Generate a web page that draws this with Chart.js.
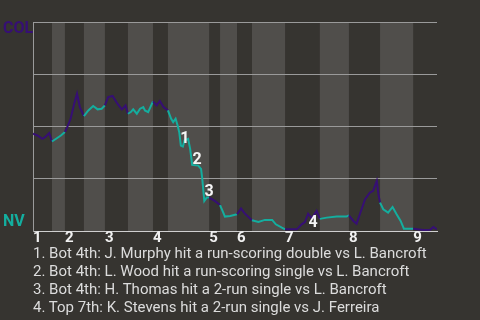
<!DOCTYPE html>
<html>
<head>
<meta charset="utf-8">
<script src="https://cdn.jsdelivr.net/npm/chart.js@4.4.1/dist/chart.umd.min.js"></script>
<style>
  body { margin: 0; background: #363430; font-family: Roboto, sans-serif; }
  #wrap { position: absolute; left: 0; top: 0; width: 480px; height: 320px; }
  #notes { position: absolute; left: 33px; top: 244px; margin: 0; padding: 0; list-style: none; color: #dcdcdc; font-size: 15px; line-height: 18px; white-space: nowrap; }
</style>
</head>
<body>
<div id="wrap"><canvas id="wpChart"></canvas></div>
<ul id="notes"></ul>
<script>
// game progress (0-100) and Colorado win probability (%)
const progress = [0, 1.1, 2.3, 3.0, 4.0, 4.7, 5.9, 6.9, 7.9, 8.3, 9.3, 10.2, 10.9, 11.6, 12.6, 13.7, 14.9, 16.0, 17.0, 17.8,
  18.6, 19.7, 20.9, 22.0, 22.9, 23.5, 24.2, 24.8, 25.7, 26.5, 27.3, 27.7, 28.5, 29.7, 30.6, 31.4, 32.3, 33.4, 34.2, 34.7,
  35.3, 35.8, 36.2, 36.6, 37.1, 37.5, 38.4, 38.9, 39.4, 40.9, 41.6, 41.9, 42.4, 43.0, 43.6, 45.0, 46.3, 47.1, 47.5, 48.8,
  50.5, 51.5, 52.4, 54.2, 55.8, 57.4, 59.2, 60.1, 61.6, 62.4, 65.3, 66.5, 67.3, 68.1, 69.0, 70.2, 71.0, 72.7, 75.2, 77.6,
  78.2, 79.3, 80.1, 80.9, 82.2, 83.4, 84.2, 85.1, 85.5, 85.9, 86.7, 87.9, 89.0, 90.0, 91.0, 91.8, 94.1, 96.6, 98.3, 99.1, 100];
const winProb = [46.6, 45.7, 44.1, 44.9, 46.8, 42.8, 44.4, 45.7, 47.4, 48.9, 53.7, 60.9, 65.7, 59.3, 55.0, 57.7, 59.8, 58.2, 58.5, 60.1,
  64.1, 64.6, 60.9, 58.2, 60.1, 56.1, 56.9, 58.2, 56.1, 58.5, 59.3, 57.7, 56.9, 62.0, 60.1, 62.2, 59.3, 57.7, 53.7, 52.1,
  53.7, 50.5, 47.3, 40.9, 40.4, 43.3, 44.1, 39.3, 31.6, 31.3, 29.7, 24.9, 14.4, 16.0, 16.0, 14.4, 12.4, 8.8, 6.9, 7.2,
  8.0, 10.8, 8.4, 5.1, 4.3, 5.3, 5.3, 3.2, 1.6, 0.8, 0.8, 3.2, 4.3, 8.3, 6.1, 9.6, 5.8, 6.4, 6.9, 6.9,
  7.5, 4.8, 3.5, 8.0, 15.2, 18.4, 19.2, 24.0, 17.6, 13.6, 10.4, 8.8, 11.5, 8.0, 4.8, 1.1, 1.1, 0.5, 0.6, 1.9, 0.8];

// start of each half inning (top, bottom, top, ...) and end of game
const halfStarts = [0, 4.7, 7.9, 12.6, 17.8, 23.5, 29.7, 33.4, 43.6, 46.3, 50.5, 54.2, 62.4, 71.0, 78.2, 85.9, 94.1, 100];
const innings = ['1', '2', '3', '4', '5', '6', '7', '8', '9'];

// key plays
const noteX = [37.6, 40.6, 43.6, 69.3];
const noteY = [44.2, 34.1, 18.8, 3.8];
const noteText = [
  'Bot 4th: J. Murphy hit a run-scoring double vs L. Bancroft',
  'Bot 4th: L. Wood hit a run-scoring single vs L. Bancroft',
  'Bot 4th: H. Thomas hit a 2-run single vs L. Bancroft',
  'Top 7th: K. Stevens hit a 2-run single vs J. Ferreira'
];

const awayColor = '#360f74';
const homeColor = '#14ae9f';

function halfIndex(x) {
  for (let i = halfStarts.length - 2; i >= 0; i--) {
    if (x >= halfStarts[i]) return i;
  }
  return 0;
}

const bandsPlugin = {
  id: 'bands',
  beforeDraw(chart) {
    const { ctx, chartArea, scales } = chart;
    ctx.save();
    ctx.fillStyle = '#363430';
    ctx.fillRect(0, 0, chart.width, chart.height);
    ctx.fillStyle = '#504e4b';
    for (let i = 1; i < halfStarts.length - 1; i += 2) {
      const x0 = scales.x.getPixelForValue(halfStarts[i]);
      const x1 = scales.x.getPixelForValue(halfStarts[i + 1]);
      ctx.fillRect(x0, chartArea.top, x1 - x0, chartArea.bottom - chartArea.top);
    }
    ctx.restore();
  }
};

const labelsPlugin = {
  id: 'labels',
  afterDatasetsDraw(chart) {
    const { ctx, scales } = chart;
    ctx.save();
    ctx.font = 'bold 16px Roboto';
    ctx.textBaseline = 'alphabetic';
    ctx.textAlign = 'left';
    ctx.fillStyle = awayColor;
    ctx.fillText('COL', 3, scales.y.getPixelForValue(100) + 11);
    ctx.fillStyle = homeColor;
    ctx.fillText('NV', 3, scales.y.getPixelForValue(0) - 5);

    ctx.font = 'bold 16px Roboto';
    ctx.textAlign = 'center';
    ctx.textBaseline = 'middle';
    ctx.fillStyle = '#f4f4f4';
    noteX.forEach((x, i) => {
      ctx.fillText(String(i + 1), scales.x.getPixelForValue(x), scales.y.getPixelForValue(noteY[i]));
    });
    ctx.restore();
  }
};

const notesList = document.getElementById('notes');
noteText.forEach((t, i) => {
  const li = document.createElement('li');
  li.textContent = (i + 1) + '. ' + t;
  notesList.appendChild(li);
});

new Chart(document.getElementById('wpChart'), {
  type: 'line',
  data: {
    datasets: [{
      data: progress.map((x, i) => ({ x: x, y: winProb[i] })),
      borderColor: awayColor,
      borderWidth: 2,
      pointRadius: 0,
      tension: 0,
      segment: {
        borderColor: ctx => {
          const mid = (ctx.p0.parsed.x + ctx.p1.parsed.x) / 2;
          return halfIndex(mid) % 2 === 0 ? awayColor : homeColor;
        }
      }
    }]
  },
  options: {
    responsive: true,
    maintainAspectRatio: false,
    animation: false,
    layout: { padding: { left: 33, right: 43, top: 22, bottom: 75 } },
    plugins: { legend: { display: false }, tooltip: { enabled: false } },
    scales: {
      x: {
        type: 'linear',
        min: 0,
        max: 100,
        afterBuildTicks: axis => { axis.ticks = innings.map((n, i) => ({ value: halfStarts[i * 2] })); },
        grid: { display: false, drawTicks: false, tickLength: 0 },
        border: { color: '#cfcfcf', width: 1 },
        ticks: {
          align: 'start',
          padding: -2,
          color: '#f0f0f0',
          font: { family: 'Roboto', size: 15, weight: 'bold' },
          maxRotation: 0,
          autoSkip: false,
          callback: (v, i) => innings[i]
        }
      },
      y: {
        min: 0,
        max: 100,
        afterBuildTicks: axis => { axis.ticks = [0, 25, 50, 75, 100].map(v => ({ value: v })); },
        grid: { color: '#9a9a9a', drawTicks: false },
        border: { color: '#9a9a9a' },
        ticks: { display: false }
      }
    }
  },
  plugins: [bandsPlugin, labelsPlugin]
});
</script>
</body>
</html>
